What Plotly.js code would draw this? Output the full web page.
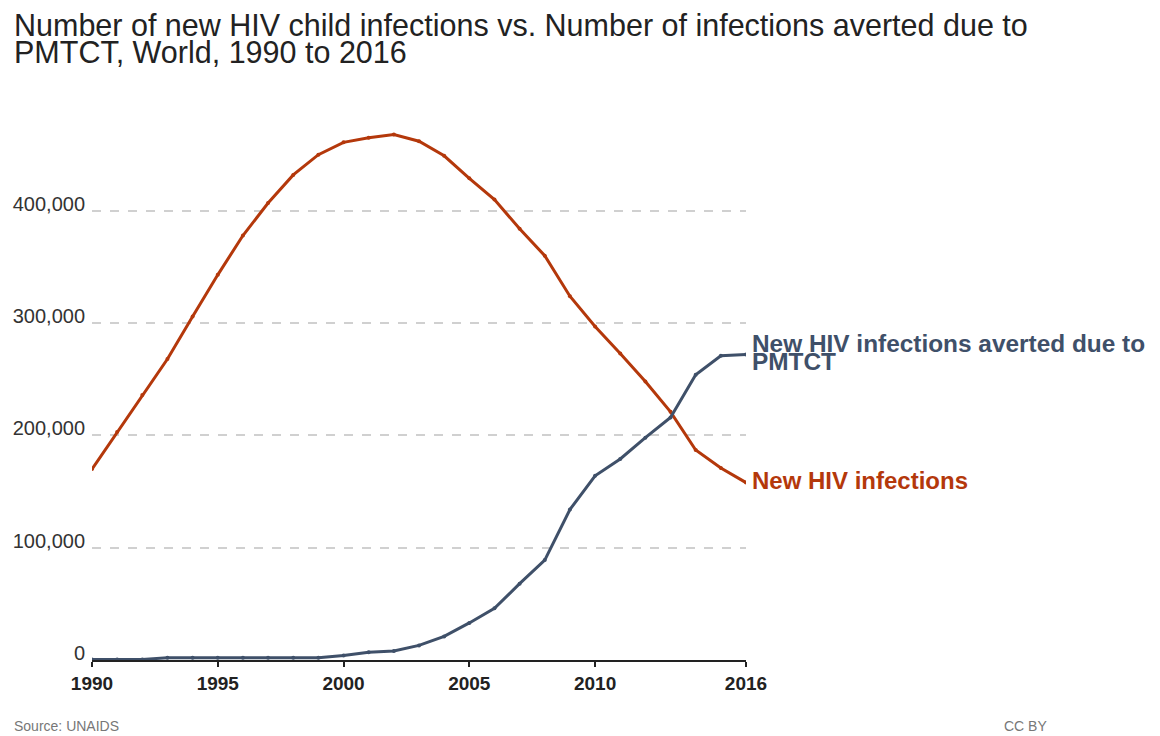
<!DOCTYPE html>
<html>
<head>
<meta charset="utf-8">
<script src="https://cdn.plot.ly/plotly-3.0.1.min.js"></script>
<style>html,body{margin:0;padding:0;background:#fff;}#chart{width:1160px;height:736px;}</style>
</head>
<body>
<div id="chart"></div>
<script>
const years = [1990,1991,1992,1993,1994,1995,1996,1997,1998,1999,2000,2001,2002,2003,2004,2005,2006,2007,2008,2009,2010,2011,2012,2013,2014,2015,2016];
const newInfections = [170000,203000,236000,268000,306000,343000,378000,407000,432000,450000,461000,465000,468000,462000,449000,429000,410000,384000,360000,324000,297000,273000,248000,221000,187000,171000,158000];
const averted = [500,500,500,2000,2000,2000,2000,2000,2000,2000,4000,7000,8000,13000,21000,33000,46000,68000,89000,134000,164000,179000,198000,216000,254000,271000,272000];
const xTicks = [1990,1995,2000,2005,2010,2016];
const yTicks = [0,100000,200000,300000,400000];
const yTickText = ['0','100,000','200,000','300,000','400,000'];
const titleLine1 = 'Number of new HIV child infections vs. Number of infections averted due to';
const titleLine2 = 'PMTCT, World, 1990 to 2016';
const labelRed = 'New HIV infections';
const labelBlue1 = 'New HIV infections averted due to';
const labelBlue2 = 'PMTCT';
const sourceText = 'Source: UNAIDS';
const licenseText = 'CC BY';

const red = '#b4380b';
const blue = '#3f5069';
const F = 'Liberation Sans, Arial, sans-serif';

const traces = [
  {x: years, y: newInfections, type: 'scatter', mode: 'lines+markers', line: {color: red, width: 3}, marker: {size: 4, color: red}, hoverinfo: 'x+y'},
  {x: years, y: averted, type: 'scatter', mode: 'lines+markers', line: {color: blue, width: 3}, marker: {size: 4, color: blue}, hoverinfo: 'x+y'}
];

const L = (px) => (px - 92) / 654; // paper x from pixel

const layout = {
  width: 1160, height: 736,
  paper_bgcolor: '#fff', plot_bgcolor: '#fff',
  showlegend: false,
  margin: {l: 92, r: 414, t: 121, b: 76},
  xaxis: {range: [1990, 2016], tickvals: xTicks, ticktext: xTicks.map(String), showgrid: false, zeroline: false,
    showline: true, linecolor: '#222', linewidth: 2, ticks: 'outside', ticklen: 5, tickwidth: 2, tickcolor: '#222',
    tickfont: {family: F, size: 19, color: '#222', weight: 'bold'}, fixedrange: true},
  yaxis: {range: [0, 480000], tickvals: yTicks, ticktext: yTickText, showgrid: true, gridcolor: '#d0d0d0', gridwidth: 2, griddash: 'dash',
    zeroline: false, showline: false, ticks: '', tickfont: {family: F, size: 20, color: '#333'}, ticklabelshift: -7, ticklabelstandoff: 6, fixedrange: true},
  annotations: [
    {xref: 'paper', yref: 'paper', x: L(12), y: 1, yshift: 96, text: titleLine1, showarrow: false, xanchor: 'left', yanchor: 'middle', font: {family: F, size: 30.5, color: '#222'}},
    {xref: 'paper', yref: 'paper', x: L(12), y: 1, yshift: 69, text: titleLine2, showarrow: false, xanchor: 'left', yanchor: 'middle', font: {family: F, size: 30.5, color: '#222'}},
    {xref: 'x', yref: 'y', x: 2016, y: newInfections[newInfections.length-1], text: labelRed, showarrow: false, xanchor: 'left', yanchor: 'middle', xshift: 4, yshift: 2, font: {family: F, size: 24, color: red, weight: 'bold'}},
    {xref: 'x', yref: 'y', x: 2016, y: averted[averted.length-1], text: labelBlue1, showarrow: false, xanchor: 'left', yanchor: 'middle', xshift: 4, yshift: 11, font: {family: F, size: 24.4, color: blue, weight: 'bold'}},
    {xref: 'x', yref: 'y', x: 2016, y: averted[averted.length-1], text: labelBlue2, showarrow: false, xanchor: 'left', yanchor: 'middle', xshift: 4, yshift: -7, font: {family: F, size: 24.4, color: blue, weight: 'bold'}},
    {xref: 'paper', yref: 'paper', x: L(12), y: 0, yshift: -66, text: sourceText, showarrow: false, xanchor: 'left', yanchor: 'middle', font: {family: F, size: 14, color: '#777'}},
    {xref: 'paper', yref: 'paper', x: L(1002), y: 0, yshift: -66, text: licenseText, showarrow: false, xanchor: 'left', yanchor: 'middle', font: {family: F, size: 14, color: '#777'}}
  ]
};

Plotly.newPlot('chart', traces, layout, {displayModeBar: false});
</script>
</body>
</html>
